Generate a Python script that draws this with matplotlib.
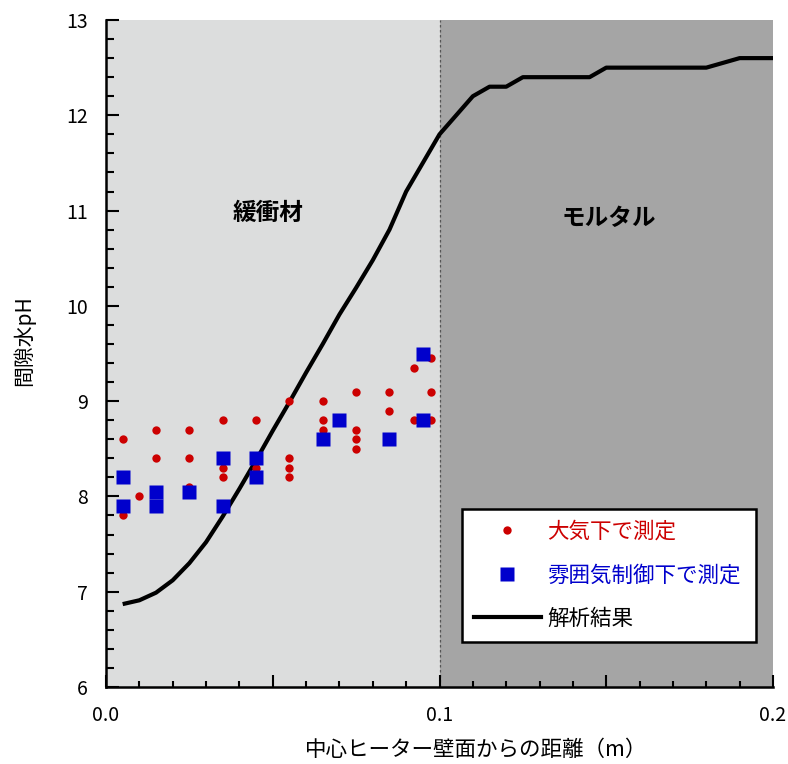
import numpy as np
import matplotlib
matplotlib.use("Agg")
import matplotlib.pyplot as plt
from matplotlib.ticker import MultipleLocator, FixedLocator, FixedFormatter
from matplotlib.lines import Line2D

plt.rcParams["font.family"] = ["Noto Sans CJK JP", "DejaVu Sans"]

# measured in air (red circles)
air_x = [0.005, 0.005, 0.010, 0.015, 0.015, 0.025, 0.025, 0.025,
         0.035, 0.035, 0.035, 0.045, 0.045, 0.055, 0.055, 0.055, 0.055,
         0.065, 0.065, 0.065, 0.075, 0.075, 0.075, 0.075, 0.085, 0.085,
         0.0925, 0.0925, 0.0975, 0.0975, 0.0975]
air_y = [8.6, 7.8, 8.0, 8.7, 8.4, 8.7, 8.4, 8.1,
         8.8, 8.3, 8.2, 8.8, 8.3, 9.0, 8.4, 8.3, 8.2,
         9.0, 8.8, 8.7, 9.1, 8.7, 8.6, 8.5, 9.1, 8.9,
         9.35, 8.8, 9.45, 9.1, 8.8]

# measured under controlled atmosphere (blue squares)
ctl_x = [0.005, 0.005, 0.015, 0.015, 0.025, 0.035, 0.035, 0.045, 0.045,
         0.065, 0.070, 0.085, 0.095, 0.095]
ctl_y = [8.2, 7.9, 8.05, 7.9, 8.05, 8.4, 7.9, 8.4, 8.2,
         8.6, 8.8, 8.6, 9.5, 8.8]

# analysis result
calc_x = [0.005, 0.010, 0.015, 0.020, 0.025, 0.030, 0.035, 0.040, 0.045, 0.050,
          0.055, 0.060, 0.065, 0.070, 0.075, 0.080, 0.085, 0.090, 0.095, 0.100,
          0.110, 0.115, 0.120, 0.125, 0.145, 0.150, 0.180, 0.190, 0.200]
calc_y = [6.87, 6.91, 6.99, 7.12, 7.30, 7.52, 7.79, 8.08, 8.38, 8.69,
          8.99, 9.30, 9.60, 9.91, 10.19, 10.48, 10.80, 11.20, 11.50, 11.80,
          12.20, 12.30, 12.30, 12.40, 12.40, 12.50, 12.50, 12.60, 12.60]

zones = ["緩衝材", "モルタル"]
zone_edges = [0.0, 0.1, 0.2]
zone_colors = ["#dcdddd", "#a5a5a5"]

fig = plt.figure(figsize=(7.88, 7.64), dpi=100)
ax = fig.add_axes([106 / 788, 77 / 764, 667 / 788, 667 / 764])

for i in range(2):
    ax.axvspan(zone_edges[i], zone_edges[i + 1], color=zone_colors[i], lw=0, zorder=0)
ax.axvline(0.1, color="#555555", lw=0.9, ls=(0, (2, 2)), zorder=1)

ax.text(0.0486, 10.97, zones[0], ha="center", va="center", fontsize=17, fontweight="bold")
ax.text(0.1507, 10.92, zones[1], ha="center", va="center", fontsize=17, fontweight="bold")

ax.plot(calc_x, calc_y, color="black", lw=3, zorder=3, solid_capstyle="butt")
ax.plot(air_x, air_y, "o", color="#cc0000", ms=6, mec="none", zorder=4)
ax.plot(ctl_x, ctl_y, "s", color="#0000cc", ms=10, mec="none", zorder=5)

ax.set_xlim(0, 0.2)
ax.set_ylim(6, 13)
for s in ["top", "right"]:
    ax.spines[s].set_visible(False)
for s in ["left", "bottom"]:
    ax.spines[s].set_linewidth(1.8)
    ax.spines[s].set_zorder(6)

ax.xaxis.set_major_locator(FixedLocator([0, 0.05, 0.1, 0.15, 0.2]))
ax.xaxis.set_major_formatter(FixedFormatter(["0.0", "", "0.1", "", "0.2"]))
ax.xaxis.set_minor_locator(MultipleLocator(0.01))
ax.yaxis.set_major_locator(MultipleLocator(1))
ax.yaxis.set_minor_locator(MultipleLocator(0.2))
ax.tick_params(axis="both", which="both", direction="in", width=1.5, colors="black")
ax.tick_params(axis="y", which="major", length=9.5, pad=13, labelsize=14)
ax.tick_params(axis="y", which="minor", length=6)
ax.tick_params(axis="x", which="major", length=9, pad=13, labelsize=14)
ax.tick_params(axis="x", which="minor", length=4)

fig.text(24 / 788, 1 - 341 / 764, "間隙水pH", rotation=90, ha="center", va="center", fontsize=15)
fig.text(476 / 788, 1 - 750 / 764, "中心ヒーター壁面からの距離（m）", ha="center", va="center", fontsize=15.5)

handles = [
    Line2D([], [], ls="none", marker="o", color="#cc0000", ms=6, mec="none"),
    Line2D([], [], ls="none", marker="s", color="#0000cc", ms=10, mec="none"),
    Line2D([], [], color="black", lw=3),
]
labels = ["大気下で測定", "雰囲気制御下で測定", "解析結果"]
leg = ax.legend(handles, labels, loc="upper left", bbox_to_anchor=(0.534, 0.075, 0.441, 0.192),
                bbox_transform=ax.transAxes, mode="expand", borderaxespad=0, fontsize=15.5,
                frameon=True, fancybox=False, framealpha=1, edgecolor="black",
                handlelength=3.1, handletextpad=0.3, labelspacing=1.0,
                borderpad=0.55)
leg.get_frame().set_linewidth(1.8)
leg.set_zorder(10)
for t, c in zip(leg.get_texts(), ["#cc0000", "#0000cc", "black"]):
    t.set_color(c)

fig.savefig("out.png", dpi=100)
